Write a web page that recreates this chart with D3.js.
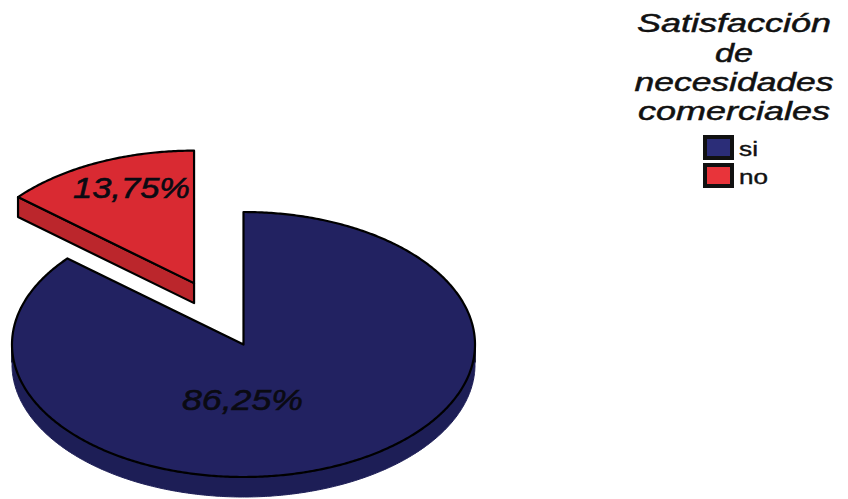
<!DOCTYPE html>
<html>
<head>
<meta charset="utf-8">
<script src="https://cdn.jsdelivr.net/npm/d3@7"></script>
<style>
  body { margin: 0; background: #fff; }
  svg { display: block; }
  text { font-family: "Liberation Sans", Arial, sans-serif; }
</style>
</head>
<body>
<svg id="chart" width="848" height="499"></svg>
<script>
// Data
const categories = ["si", "no"];
const values = [86.25, 13.75];
const valueLabels = ["86,25%", "13,75%"];
const legendTitle = ["Satisfacción", "de", "necesidades", "comerciales"];

// Styling
const topColors = ["#222261", "#d92a32"];
const sideColors = ["#1d1e56", "#bb262c"];
const swatchColors = ["#2b2d78", "#e8343a"];
const explode = [0, 0.51];            // fraction of radius each slice is pulled out

// Pie geometry (tilted ellipse)
const cx = 243.5, cy = 344.5, rx = 231.5, ry = 132.5, depth = 20;

const svg = d3.select("#chart");
const arcs = d3.pie().sort(null).value(d => d)(values);

const proj = (ox, oy, a, r, z) => [ox + r * rx * Math.sin(a), oy - r * ry * Math.cos(a) + z];

function arcPoints(ox, oy, a0, a1, z) {
  const n = Math.max(2, Math.ceil(Math.abs(a1 - a0) / 0.01));
  return d3.range(n + 1).map(i => proj(ox, oy, a0 + (a1 - a0) * i / n, 1, z));
}

const line = d3.line();

const slices = arcs.map((a, i) => {
  const mid = (a.startAngle + a.endAngle) / 2;
  const ox = cx + explode[i] * rx * Math.sin(mid);
  const oy = cy - explode[i] * ry * Math.cos(mid);
  return { a, i, ox, oy, mid };
}).sort((p, q) => p.oy - q.oy);

const g = svg.append("g");

slices.forEach(s => {
  const { a, i, ox, oy } = s;
  const sg = g.append("g");

  // cut faces that turn toward the viewer
  const faces = [];
  if (Math.cos(a.startAngle - Math.PI / 2) < -1e-6) faces.push(a.startAngle);
  if (Math.cos(a.endAngle + Math.PI / 2) < -1e-6) faces.push(a.endAngle);
  faces.forEach(ang => {
    const c0 = [ox, oy], c1 = proj(ox, oy, ang, 1, 0);
    const pts = [c0, c1, [c1[0], c1[1] + depth], [c0[0], c0[1] + depth]];
    sg.append("path")
      .attr("d", line(pts) + "Z")
      .attr("fill", sideColors[i])
      .attr("stroke", "#000")
      .attr("stroke-width", 2.2)
      .attr("stroke-linejoin", "round");
  });

  // outer rim on the front half of the ellipse
  const lo = Math.max(a.startAngle, Math.PI / 2);
  const hi = Math.min(a.endAngle, 3 * Math.PI / 2);
  if (hi > lo) {
    const topEdge = arcPoints(ox, oy, lo, hi, 0);
    const botEdge = arcPoints(ox, oy, hi, lo, depth);
    sg.append("path")
      .attr("d", line(topEdge.concat(botEdge)) + "Z")
      .attr("fill", sideColors[i])
      .attr("stroke", sideColors[i])
      .attr("stroke-width", 1)
      .attr("stroke-linejoin", "round");
    // rim ends
    [lo, hi].forEach(ang => {
      const p = proj(ox, oy, ang, 1, 0);
      sg.append("line")
        .attr("x1", p[0]).attr("y1", p[1])
        .attr("x2", p[0]).attr("y2", p[1] + depth * 0.9)
        .attr("stroke", "#0b0b25").attr("stroke-width", 1.6);
    });
  }

  // top face
  const topPts = [[ox, oy]].concat(arcPoints(ox, oy, a.startAngle, a.endAngle, 0));
  sg.append("path")
    .attr("d", line(topPts) + "Z")
    .attr("fill", topColors[i])
    .attr("stroke", "#000")
    .attr("stroke-width", 2.2)
    .attr("stroke-linejoin", "round");
});

// Value labels
const labelPos = [
  { x: 242.5, y: 410, w: 121 },
  { x: 131.5, y: 198, w: 117 }
];
valueLabels.forEach((t, i) => {
  svg.append("text")
    .attr("x", labelPos[i].x)
    .attr("y", labelPos[i].y)
    .attr("text-anchor", "middle")
    .attr("font-style", "italic")
    .attr("font-size", 30)
    .attr("textLength", labelPos[i].w)
    .attr("lengthAdjust", "spacingAndGlyphs")
    .attr("fill", "#0a0a12")
    .attr("stroke", "#0a0a12")
    .attr("stroke-width", 0.6)
    .text(t);
});

// Legend
const legend = svg.append("g");
const titleLines = [
  { y: 32, w: 194 },
  { y: 61.5, w: 38 },
  { y: 91, w: 199 },
  { y: 120, w: 192 }
];
legendTitle.forEach((t, k) => {
  legend.append("text")
    .attr("x", 734)
    .attr("y", titleLines[k].y)
    .attr("text-anchor", "middle")
    .attr("font-style", "italic")
    .attr("font-size", 26)
    .attr("textLength", titleLines[k].w)
    .attr("lengthAdjust", "spacingAndGlyphs")
    .attr("fill", "#111")
    .attr("stroke", "#111")
    .attr("stroke-width", 0.5)
    .text(t);
});

const itemW = [19, 29];
categories.forEach((c, i) => {
  const y0 = 136.5 + i * 28;
  legend.append("rect")
    .attr("x", 705).attr("y", y0 + 0.5)
    .attr("width", 27).attr("height", 21)
    .attr("fill", swatchColors[i])
    .attr("stroke", "#111")
    .attr("stroke-width", 4);
  legend.append("text")
    .attr("x", 739)
    .attr("y", y0 + 19.5)
    .attr("font-size", 21)
    .attr("textLength", itemW[i])
    .attr("lengthAdjust", "spacingAndGlyphs")
    .attr("fill", "#111")
    .attr("stroke", "#111")
    .attr("stroke-width", 0.4)
    .text(c);
});
</script>
</body>
</html>
